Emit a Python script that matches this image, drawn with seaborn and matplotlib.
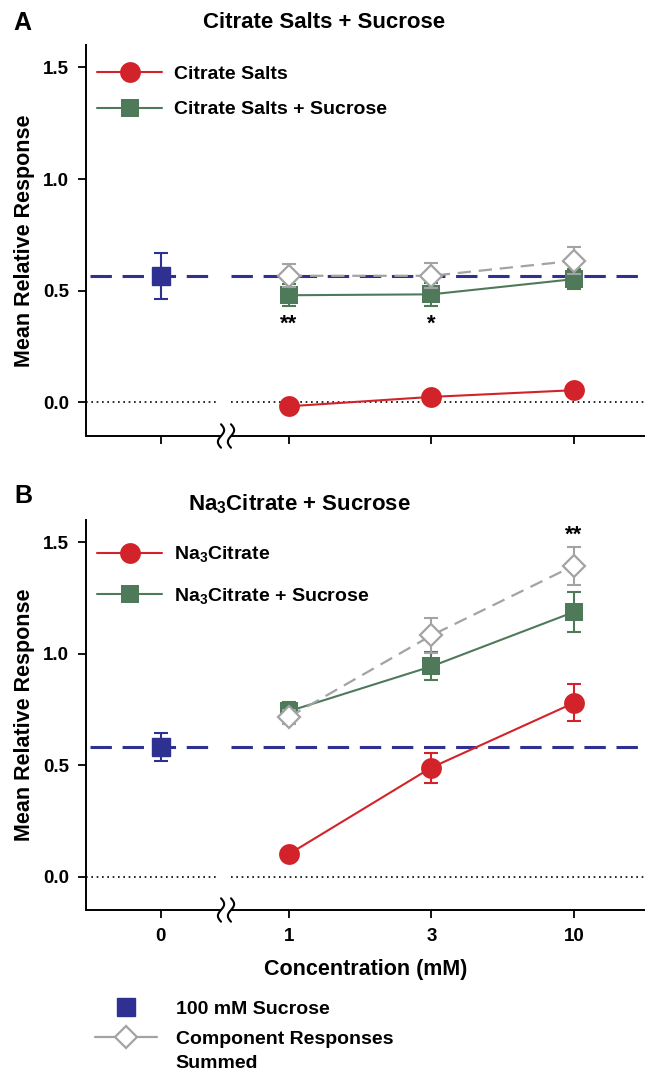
import numpy as np
import matplotlib.pyplot as plt
import matplotlib.transforms as mtransforms
from matplotlib.lines import Line2D
import seaborn as sns

# concentration categories (mM) and where they sit on the broken x axis
conc_labels = ['0', '1', '3', '10']
conc_pos = [0.1, 1, 2, 3]

# Panel A: citrate salts
sucrose_a = 0.567
sucrose_a_err = 0.102
salts_a = [-0.017, 0.025, 0.055]
salts_a_err = [0.01, 0.01, 0.01]
salts_suc_a = [0.480, 0.484, 0.552]
salts_suc_a_err = [0.049, 0.05, 0.045]
summed_a = [0.567, 0.567, 0.634]
summed_a_err = [0.051, 0.056, 0.06]
stars_a = ['**', '*', '']

# Panel B: Na3Citrate
sucrose_b = 0.582
sucrose_b_err = 0.062
salts_b = [0.101, 0.489, 0.779]
salts_b_err = [0.015, 0.067, 0.083]
salts_suc_b = [0.742, 0.943, 1.187]
salts_suc_b_err = [0.04, 0.063, 0.09]
summed_b = [0.716, 1.082, 1.395]
summed_b_err = [0.03, 0.08, 0.085]
stars_b = ['', '', '**']

RED = '#d2232a'
GREEN = '#4f7a5a'
BLUE = '#2e3192'
GRAY = '#a3a3a3'

sns.set_style("ticks")
plt.rcParams['font.family'] = ['Liberation Sans', 'DejaVu Sans']
plt.rcParams['font.weight'] = 'bold'
plt.rcParams['mathtext.fontset'] = 'custom'
plt.rcParams['mathtext.rm'] = 'Liberation Sans:bold'
plt.rcParams['mathtext.bf'] = 'Liberation Sans:bold'
plt.rcParams['mathtext.it'] = 'Liberation Sans:bold'
for key in ['text.color', 'axes.labelcolor', 'xtick.color', 'ytick.color',
            'axes.edgecolor']:
    plt.rcParams[key] = 'black'

W, H = 645, 1072
fig = plt.figure(figsize=(W / 100, H / 100), dpi=100)
axA = fig.add_axes([86 / W, (H - 436) / H, 559 / W, 391 / H])
axB = fig.add_axes([86 / W, (H - 910) / H, 559 / W, 390 / H])

XMIN, XMAX = -0.425, 3.5
GAP = (0.523, 0.593)


def draw_panel(ax, sucrose, sucrose_err, salt, salt_err, mix, mix_err,
               summed, summed_err, stars, star_y, labels, leg_y, leg_space,
               show_xlabels):
    xs = conc_pos[1:]
    ax.set_xlim(XMIN, XMAX)
    ax.set_ylim(-0.15, 1.6)

    # reference lines, interrupted at the axis break
    ax.hlines([0, 0], [XMIN, GAP[1]], [GAP[0] - 0.03, XMAX], colors='k',
              linestyles=(0, (1, 2.2)), lw=1.2, zorder=1)
    ax.hlines([sucrose, sucrose], [XMIN + 0.03, GAP[1]], [GAP[0] - 0.06, XMAX],
              colors=BLUE, linestyles=(0, (7, 3.5)), lw=2.2, zorder=1)

    # sucrose alone
    ax.errorbar([conc_pos[0]], [sucrose], yerr=[sucrose_err], fmt='s',
                color=BLUE, ms=13, elinewidth=1.5, capsize=5, capthick=1.5,
                zorder=4)

    # salt alone
    ax.errorbar(xs, salt, yerr=salt_err, fmt='none', ecolor=RED,
                elinewidth=1.5, capsize=5, capthick=1.5, zorder=3)
    sns.lineplot(x=xs, y=salt, ax=ax, color=RED, marker='o', markersize=15,
                 markeredgecolor=RED, markeredgewidth=0, lw=1.5, zorder=3)

    # salt + sucrose
    ax.errorbar(xs, mix, yerr=mix_err, fmt='none', ecolor=GREEN,
                elinewidth=1.5, capsize=5, capthick=1.5, zorder=3)
    sns.lineplot(x=xs, y=mix, ax=ax, color=GREEN, marker='s', markersize=13,
                 markeredgecolor=GREEN, markeredgewidth=0, lw=1.5, zorder=3)

    # summed components
    ax.errorbar(xs, summed, yerr=summed_err, fmt='none', ecolor=GRAY,
                elinewidth=1.5, capsize=5, capthick=1.5, zorder=5)
    sns.lineplot(x=xs, y=summed, ax=ax, color=GRAY, marker='D', markersize=11,
                 markerfacecolor='white', markeredgecolor=GRAY,
                 markeredgewidth=1.6, lw=1.6, linestyle=(0, (6, 3.5)), zorder=5)

    for x, s in zip(xs, stars):
        if s:
            ax.text(x, star_y, s, ha='center', va='center', fontsize=16,
                    fontweight='bold')

    # axes styling with a broken x axis
    for side in ['top', 'right', 'bottom']:
        ax.spines[side].set_visible(False)
    ax.spines['left'].set_linewidth(1.4)
    ax.set_yticks([0, 0.5, 1.0, 1.5])
    ax.set_yticklabels(['0.0', '0.5', '1.0', '1.5'])
    ax.set_xticks(conc_pos)
    ax.set_xticklabels(conc_labels if show_xlabels else [])
    ax.tick_params(axis='both', length=6, width=1.3, labelsize=13.5, pad=6)
    ax.tick_params(axis='x', pad=7)
    ax.set_ylabel('Mean Relative Response', fontsize=15.5, fontweight='bold')
    ax.yaxis.set_label_coords(-0.092, 0.5)

    trans = mtransforms.blended_transform_factory(ax.transData, ax.transAxes)
    ax.plot([XMIN, GAP[0]], [0, 0], transform=trans, color='k', lw=1.4,
            clip_on=False, solid_capstyle='butt')
    ax.plot([GAP[1], XMAX], [0, 0], transform=trans, color='k', lw=1.4,
            clip_on=False, solid_capstyle='butt')
    t = np.linspace(-1, 1, 40)
    for cx in GAP:
        ax.plot(cx + 0.022 * np.sin(np.pi * t), 0.03 * t, transform=trans,
                color='k', lw=1.5, clip_on=False)

    handles = [
        Line2D([], [], color=RED, marker='o', ms=15, mew=0, lw=1.5),
        Line2D([], [], color=GREEN, marker='s', ms=13, mew=0, lw=1.5),
    ]
    ax.legend(handles, labels, loc='center left', bbox_to_anchor=(0.0197, leg_y),
              frameon=False, fontsize=14, handlelength=3.35, handletextpad=0.62,
              borderpad=0, borderaxespad=0, labelspacing=leg_space)


draw_panel(axA, sucrose_a, sucrose_a_err, salts_a, salts_a_err, salts_suc_a,
           salts_suc_a_err, summed_a, summed_a_err, stars_a, 0.35,
           ['Citrate Salts', 'Citrate Salts + Sucrose'], 0.880, 0.92, False)
draw_panel(axB, sucrose_b, sucrose_b_err, salts_b, salts_b_err, salts_suc_b,
           salts_suc_b_err, summed_b, summed_b_err, stars_b, 1.53,
           ['Na$_3$Citrate', 'Na$_3$Citrate + Sucrose'], 0.858, 1.12, True)
axB.set_xlabel('Concentration (mM)', fontsize=15.5, fontweight='bold',
               labelpad=10)

# panel titles and letters
fig.text(203 / W, 1 - 27.7 / H, 'Citrate Salts + Sucrose', fontsize=16,
         fontweight='bold', va='baseline')
fig.text(188 / W, 1 - 510 / H, 'Na$_3$Citrate + Sucrose', fontsize=16,
         fontweight='bold', va='baseline')
fig.text(13 / W, 1 - 30 / H, 'A', fontsize=18, fontweight='bold', va='baseline')
fig.text(14 / W, 1 - 503 / H, 'B', fontsize=18, fontweight='bold', va='baseline')

# shared legend below panel B
fig.legend([Line2D([], [], color=BLUE, marker='s', ms=13.5, lw=0),
            Line2D([], [], color=GRAY, marker='D', ms=11, mfc='white',
                   mec=GRAY, mew=1.6, lw=1.6)],
           ['100 mM Sucrose', 'Component Responses'],
           loc='upper left', bbox_to_anchor=(95 / W, 1 - 1000 / H),
           frameon=False, fontsize=14, handlelength=3.2, handletextpad=0.95,
           borderpad=0, borderaxespad=0, labelspacing=0.65)
fig.text(175 / W, 1 - 1063 / H, 'Summed', fontsize=14, fontweight='bold',
         va='center')

fig.savefig('out.png', dpi=100)
